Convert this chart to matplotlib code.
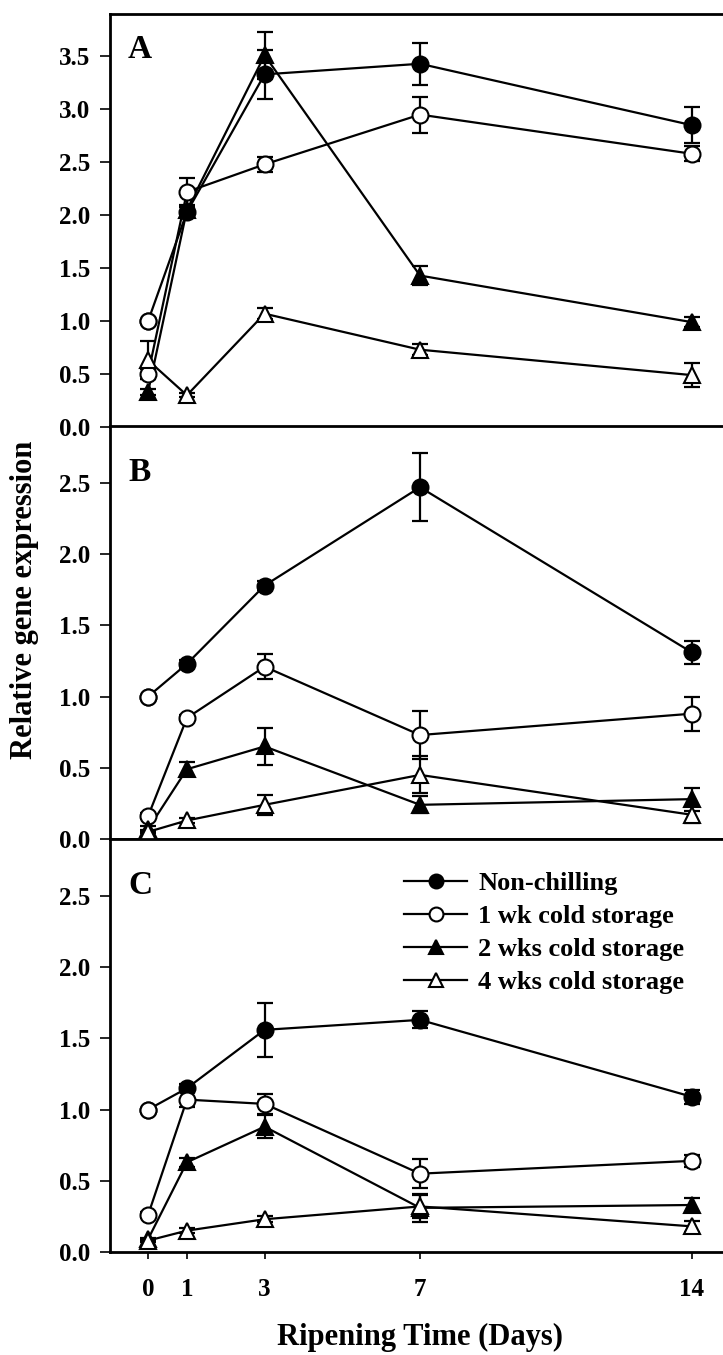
import matplotlib
matplotlib.use('Agg')
import matplotlib.pyplot as plt
from matplotlib.lines import Line2D

plt.rcParams['font.family'] = 'Liberation Serif'
plt.rcParams['font.weight'] = 'bold'

days = [0, 1, 3, 7, 14]
series_names = ['Non-chilling', '1 wk cold storage', '2 wks cold storage', '4 wks cold storage']

# panel A
nc_a = [1.00, 2.03, 3.33, 3.43, 2.85]
nc_a_err = [0.00, 0.05, 0.23, 0.20, 0.17]
wk1_a = [0.50, 2.22, 2.48, 2.95, 2.58]
wk1_a_err = [0.05, 0.13, 0.07, 0.17, 0.07]
wk2_a = [0.33, 2.05, 3.51, 1.43, 0.99]
wk2_a_err = [0.03, 0.05, 0.22, 0.09, 0.05]
wk4_a = [0.63, 0.30, 1.07, 0.73, 0.49]
wk4_a_err = [0.18, 0.02, 0.05, 0.05, 0.11]

# panel B
nc_b = [1.00, 1.23, 1.78, 2.47, 1.31]
nc_b_err = [0.00, 0.03, 0.03, 0.24, 0.08]
wk1_b = [0.16, 0.85, 1.21, 0.73, 0.88]
wk1_b_err = [0.02, 0.02, 0.09, 0.17, 0.12]
wk2_b = [0.07, 0.49, 0.65, 0.24, 0.28]
wk2_b_err = [0.02, 0.05, 0.13, 0.06, 0.08]
wk4_b = [0.05, 0.13, 0.24, 0.45, 0.17]
wk4_b_err = [0.01, 0.02, 0.07, 0.13, 0.06]

# panel C
nc_c = [1.00, 1.15, 1.56, 1.63, 1.09]
nc_c_err = [0.00, 0.03, 0.19, 0.06, 0.05]
wk1_c = [0.26, 1.07, 1.04, 0.55, 0.64]
wk1_c_err = [0.02, 0.05, 0.07, 0.10, 0.04]
wk2_c = [0.09, 0.63, 0.88, 0.31, 0.33]
wk2_c_err = [0.01, 0.03, 0.08, 0.10, 0.05]
wk4_c = [0.08, 0.15, 0.23, 0.32, 0.18]
wk4_c_err = [0.01, 0.02, 0.02, 0.08, 0.04]

panels = [
    ('A', 3.9, [0, 0.5, 1.0, 1.5, 2.0, 2.5, 3.0, 3.5],
     [(nc_a, nc_a_err), (wk1_a, wk1_a_err), (wk2_a, wk2_a_err), (wk4_a, wk4_a_err)]),
    ('B', 2.9, [0, 0.5, 1.0, 1.5, 2.0, 2.5],
     [(nc_b, nc_b_err), (wk1_b, wk1_b_err), (wk2_b, wk2_b_err), (wk4_b, wk4_b_err)]),
    ('C', 2.9, [0, 0.5, 1.0, 1.5, 2.0, 2.5],
     [(nc_c, nc_c_err), (wk1_c, wk1_c_err), (wk2_c, wk2_c_err), (wk4_c, wk4_c_err)]),
]

styles = [('o', 'black'), ('o', 'white'), ('^', 'black'), ('^', 'white')]
msize = 11.5
lw = 1.6

W, H = 723, 1355
fig = plt.figure(figsize=(W / 100, H / 100), dpi=100)

left, right = 110 / W, 1.0
panel_h = 413 / H
bottoms = [1 - 427 / H, 1 - 839 / H, 1 - 1252 / H]
letter_drop = [36, 46, 46]  # pixels below each panel's top edge

axes = []
for i, (letter, ymax, yt, data) in enumerate(panels):
    ax = fig.add_axes([left, bottoms[i], right - left, panel_h])
    axes.append(ax)
    for (vals, err), (mk, face) in zip(data, styles):
        ax.errorbar(days, vals, yerr=err, fmt='-', color='black', lw=lw,
                    elinewidth=1.6, capsize=5.8, capthick=1.6, zorder=2)
        ax.plot(days, vals, linestyle='none', marker=mk, ms=msize,
                mfc=face, mec='black', mew=1.5, zorder=3)
    # control sample at day 0 is drawn open
    ax.plot(days[0], data[0][0][0], linestyle='none', marker='o', ms=msize,
            mfc='white', mec='black', mew=1.5, zorder=4)

    ax.set_xlim(-0.98, 14.8)
    ax.set_ylim(0, ymax)
    ax.set_yticks(yt)
    ax.set_yticklabels(['%.1f' % v for v in yt])
    ax.spines['right'].set_visible(False)
    for s in ['left', 'top', 'bottom']:
        ax.spines[s].set_linewidth(2)
    ax.tick_params(axis='y', direction='out', length=7, width=1.2, labelsize=18, pad=7)
    ax.set_xticks(days)
    if i == 2:
        ax.tick_params(axis='x', direction='out', length=5, width=1.2, labelsize=18, pad=14)
    elif i == 0:
        ax.tick_params(axis='x', direction='out', length=5, width=1.2, labelbottom=False)
    else:
        ax.tick_params(axis='x', length=0, labelbottom=False)
    for lab in ax.get_xticklabels() + ax.get_yticklabels():
        lab.set_fontweight('bold')
    ax.text(30 / 613, 1 - letter_drop[i] / 413, letter, transform=ax.transAxes,
            fontsize=24, fontweight='bold', va='center', ha='center')

handles = [Line2D([0], [0], color='black', lw=lw, marker=mk, ms=10,
                  mfc=face, mec='black', mew=1.5) for mk, face in styles]
axes[2].legend(handles, series_names, loc='upper left',
               bbox_to_anchor=(404 / W, 1 - 872 / H), bbox_transform=fig.transFigure,
               frameon=False, handlelength=2.4, handletextpad=0.42,
               labelspacing=0.36, borderpad=0, borderaxespad=0,
               prop={'weight': 'bold', 'size': 19})

fig.text(25 / W, 1 - 600 / H, 'Relative gene expression', rotation=90,
         ha='center', va='center', fontsize=22, fontweight='bold')
fig.text(420 / W, 1 - 1337 / H, 'Ripening Time (Days)', ha='center', va='center',
         fontsize=22, fontweight='bold')

fig.savefig('out.png', dpi=100)
